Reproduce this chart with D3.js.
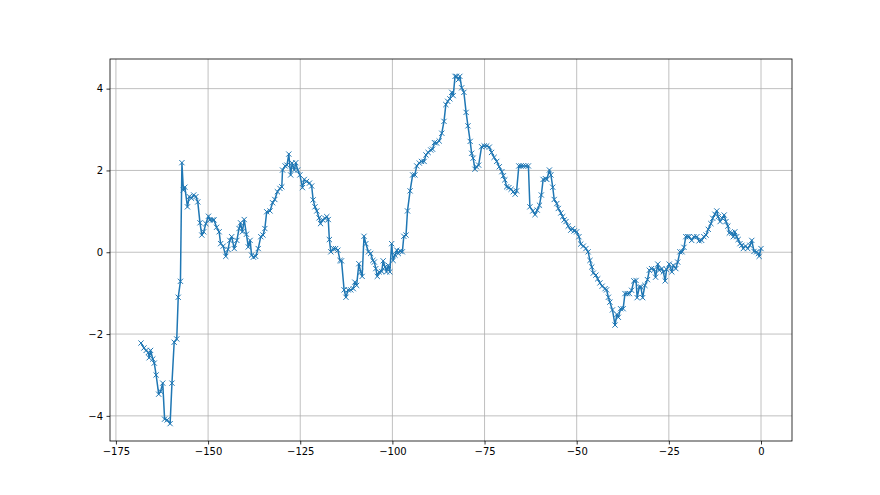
<!DOCTYPE html>
<html>
<head>
<meta charset="utf-8">
<script src="https://cdn.jsdelivr.net/npm/d3@7"></script>
<style>
html,body{margin:0;padding:0;background:#fff;}
svg{display:block;font-family:"DejaVu Sans",sans-serif;}
</style>
</head>
<body>
<svg id="chart" width="880" height="495"></svg>
<script>
const xValues = [
-168.2,-167.4,-166.8,-166.2,-166.0,-165.6,-165.0,-164.6,-164.1,-163.4,-162.9,-162.3,-161.8,-161.1,-160.3,-159.8,-159.2,-158.5,-158.1,-157.5,
-157.1,-156.7,-156.3,-155.6,-155.1,-154.5,-153.9,-153.3,-152.8,-152.2,-151.7,-151.2,-150.6,-149.9,
-149.5,-148.8,-148.4,-147.7,-147.0,-146.6,-145.9,-145.2,-144.6,-144.1,-143.6,-142.9,-142.2,-141.6,-141.2,-140.7,-140.2,-139.6,-139.1,-138.6,-138.2,-137.7,-137.1,-136.4,-135.7,-135.1,-134.6,-134.1,-133.2,-132.5,-131.9,-131.2,-130.5,
-130.0,-129.8,-129.1,-128.6,-128.1,-127.6,-127.2,-126.6,-126.2,-125.7,-125.1,-124.4,-123.9,-123.3,-122.5,-121.9,-121.5,-121.0,-120.5,-119.9,-119.5,-118.9,-118.3,-117.8,-117.4,-117.1,-116.7,-116.0,-115.4,-114.8,-114.2,-113.8,-113.1,-112.6,
-112.0,-111.3,-110.6,-110.2,-109.7,-109.1,-108.6,-108.2,-107.7,-107.2,-106.5,-105.9,-105.3,-104.9,-104.5,-104.1,-103.6,-102.9,-102.5,-102.0,-101.6,-101.1,-100.7,-100.2,-99.8,-99.3,-98.8,-98.4,-97.9,-97.3,
-96.9,-96.3,-95.9,-95.2,-94.5,-93.9,-93.4,-92.7,-92.1,-91.4,-90.9,-90.3,-89.6,-89.1,-88.6,-88.0,-87.3,-86.6,-86.0,-85.5,-85.0,-84.4,-83.9,-83.5,-83.0,-82.6,-82.1,-81.7,-81.2,-80.6,-80.0,-79.5,-78.9,-78.5,-78.1,-77.6,-77.2,-76.6,
-75.8,-75.1,-74.4,-73.7,-73.1,-72.4,-71.7,-71.0,-70.3,-69.9,-69.5,-69.0,-68.4,-67.8,-67.2,-66.7,-66.3,-65.7,-65.1,-64.5,-63.8,-63.1,-62.7,-61.9,-61.3,-60.7,-60.1,-59.6,-59.1,-58.5,-58.1,-57.4,-57.0,-56.5,-56.1,-55.4,-55.0,
-54.3,-53.8,-53.4,-52.9,-52.3,-51.6,-51.1,-50.7,-50.0,-49.4,-48.9,-48.2,-47.5,-46.9,-46.4,-45.9,-45.5,-44.8,-44.3,-43.7,-43.1,-42.3,-41.9,-41.4,-41.0,-40.3,-39.6,-39.1,-38.7,-38.1,-37.4,-36.9,-36.3,-35.7,-35.1,-34.5,-33.9,-33.6,-33.0,-32.6,-32.1,
-31.5,-30.8,-30.3,-29.7,-29.0,-28.6,-28.0,-27.6,-26.9,-26.5,-26.0,-25.6,-24.9,-24.2,-23.8,-23.1,-22.6,-22.0,-21.4,-20.9,-20.4,-19.9,-19.5,-18.8,-18.2,-17.4,-16.8,-16.1,-15.5,-14.9,-14.3,-13.6,-13.1,-12.5,-12.0,-11.6,-11.1,-10.5,-10.0,
-9.5,-9.0,-8.6,-7.9,-7.5,-7.1,-6.6,-6.2,-5.7,-5.2,-4.8,-4.2,-3.6,-3.0,-2.5,-1.9,-1.2,-0.7,-0.5,0.0
];
const yValues = [
-2.22,-2.34,-2.40,-2.45,-2.58,-2.40,-2.61,-2.71,-3.00,-3.47,-3.40,-3.20,-4.08,-4.10,-4.19,-3.20,-2.20,-2.12,-1.10,-0.71,
2.19,1.52,1.59,1.11,1.36,1.32,1.40,1.36,1.23,0.72,0.42,0.50,0.70,0.88,
0.79,0.79,0.79,0.61,0.50,0.21,0.15,-0.10,0.07,0.29,0.38,0.09,0.29,0.58,0.72,0.50,0.80,0.44,0.13,0.29,-0.07,-0.12,-0.10,0.09,0.38,0.42,0.58,0.99,1.01,1.21,1.29,1.48,1.56,
1.60,2.01,2.11,2.13,2.40,1.89,2.18,2.01,2.19,2.01,1.89,1.58,1.78,1.73,1.69,1.62,1.28,1.11,1.01,0.84,0.70,0.79,0.83,0.87,0.80,0.31,0.01,0.09,0.09,0.05,-0.20,-0.21,-0.92,-1.10,
-0.92,-0.92,-0.89,-0.73,-0.81,-0.28,-0.48,-0.59,0.39,0.21,0.01,-0.03,-0.20,-0.24,-0.40,-0.59,-0.48,-0.47,-0.21,-0.36,-0.48,-0.32,-0.48,0.21,-0.20,-0.07,0.05,-0.03,0.03,0.01,
0.39,0.42,1.01,1.50,1.89,1.89,2.11,2.18,2.22,2.22,2.38,2.44,2.50,2.52,2.68,2.67,2.72,2.91,3.20,3.61,3.69,3.75,3.91,3.83,4.30,4.30,4.22,4.30,4.02,3.91,3.42,3.09,2.71,2.42,2.30,2.03,2.09,2.13,
2.58,2.60,2.60,2.57,2.44,2.32,2.22,2.09,1.97,1.87,1.77,1.60,1.58,1.54,1.48,1.42,1.50,2.11,2.11,2.11,2.11,2.11,1.11,1.01,0.92,1.03,1.15,1.40,1.78,1.80,1.78,2.01,1.89,1.59,1.29,1.19,1.07,
0.96,0.87,0.79,0.75,0.64,0.54,0.58,0.52,0.50,0.38,0.20,0.15,0.09,0.01,-0.20,-0.36,-0.51,-0.56,-0.65,-0.75,-0.83,-0.89,-0.92,-1.10,-1.22,-1.41,-1.78,-1.52,-1.59,-1.38,-1.38,-1.01,-1.01,-1.01,-0.93,-0.70,-0.69,-1.11,-0.85,-0.85,-1.11,
-0.81,-0.67,-0.44,-0.40,-0.42,-0.61,-0.29,-0.44,-0.40,-0.48,-0.70,-0.42,-0.29,-0.48,-0.32,-0.40,-0.24,0.01,0.01,0.12,0.38,0.38,0.38,0.29,0.38,0.38,0.28,0.29,0.38,0.42,0.56,0.70,0.83,0.93,1.01,0.87,0.75,0.83,0.91,
0.75,0.64,0.47,0.47,0.38,0.50,0.38,0.31,0.21,0.17,0.09,0.15,0.09,0.17,0.29,0.02,0.01,-0.03,-0.10,0.09
];
const xTicks = [-175,-150,-125,-100,-75,-50,-25,0];
const yTicks = [-4,-2,0,2,4];

const data = xValues.map((x,i)=>({x:x,y:yValues[i]}));
const svg = d3.select("#chart");
const L=110, R=792, T=59, B=441;
const xMin=d3.min(xValues), xMax=d3.max(xValues), yMin=d3.min(yValues), yMax=d3.max(yValues);
const xPad=(xMax-xMin)*0.05, yPad=(yMax-yMin)*0.05;
const x = d3.scaleLinear().domain([xMin-xPad, xMax+xPad]).range([L,R]);
const y = d3.scaleLinear().domain([yMin-yPad, yMax+yPad]).range([B,T]);
const fmt = d=> (d<0 ? "\u2212"+Math.abs(d) : ""+d);

// grid
const g = svg.append("g");
g.selectAll("line.gx").data(xTicks).enter().append("line")
 .attr("x1",d=>x(d)).attr("x2",d=>x(d)).attr("y1",T).attr("y2",B)
 .attr("stroke","#b0b0b0").attr("stroke-width",0.8);
g.selectAll("line.gy").data(yTicks).enter().append("line")
 .attr("y1",d=>y(d)).attr("y2",d=>y(d)).attr("x1",L).attr("x2",R)
 .attr("stroke","#b0b0b0").attr("stroke-width",0.8);

// axes
const xAxis = d3.axisBottom(x).tickValues(xTicks).tickFormat(fmt).tickSize(3.5).tickPadding(3.5);
const yAxis = d3.axisLeft(y).tickValues(yTicks).tickFormat(fmt).tickSize(3.5).tickPadding(3.5);
const gx = svg.append("g").attr("transform",`translate(0,${B})`).call(xAxis);
const gy = svg.append("g").attr("transform",`translate(${L},0)`).call(yAxis);
[gx,gy].forEach(a=>{
  a.select(".domain").remove();
  a.selectAll(".tick line").attr("stroke","#000").attr("stroke-width",0.8);
  a.selectAll(".tick text").attr("fill","#000").style("font-size","10px").style("font-family","DejaVu Sans");
});

// line
svg.append("path").datum(data)
 .attr("d", d3.line().x(d=>x(d.x)).y(d=>y(d.y)))
 .attr("fill","none").attr("stroke","#1f77b4").attr("stroke-width",1.5).attr("stroke-linejoin","round").attr("stroke-linecap","square");

// x markers
const m = 2.6;
svg.append("g").selectAll("path").data(data).enter().append("path")
 .attr("d", d=>{const cx=x(d.x), cy=y(d.y); return `M${cx-m},${cy-m}L${cx+m},${cy+m}M${cx-m},${cy+m}L${cx+m},${cy-m}`;})
 .attr("stroke","#1f77b4").attr("stroke-width",1).attr("fill","none");

// spines
svg.append("rect").attr("x",L).attr("y",T).attr("width",R-L).attr("height",B-T)
 .attr("fill","none").attr("stroke","#000").attr("stroke-width",0.8);
</script>
</body>
</html>
